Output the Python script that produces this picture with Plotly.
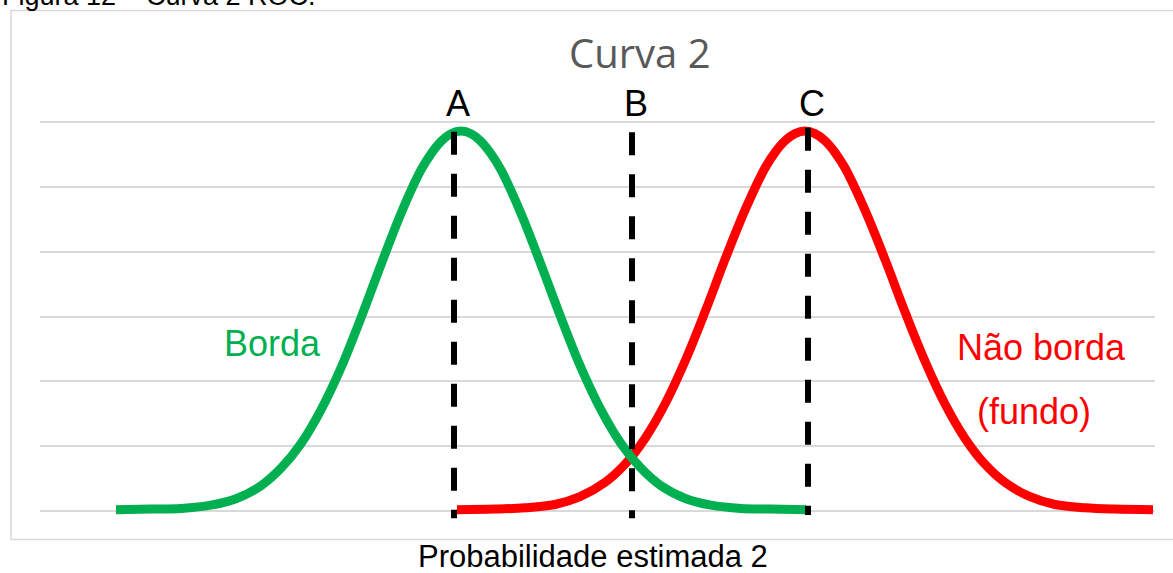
import plotly.graph_objects as go

# ---- data ----
borda_x = [116, 151, 181, 211, 236, 261, 281, 301, 321, 341, 361, 381, 401, 421, 431, 441, 451, 461,
           471, 481, 491, 501, 521, 541, 561, 581, 601, 621, 641, 661, 686, 711, 741, 771, 806]
borda_y = [0.02, 0.03, 0.04, 0.09, 0.19, 0.39, 0.66, 1.04, 1.56, 2.21, 2.98, 3.80, 4.59, 5.26, 5.51, 5.70, 5.82, 5.86,
           5.82, 5.70, 5.51, 5.26, 4.59, 3.80, 2.98, 2.21, 1.56, 1.04, 0.66, 0.39, 0.19, 0.09, 0.04, 0.03, 0.02]

fundo_x = [457, 495, 525, 555, 580, 605, 625, 645, 665, 685, 705, 725, 745, 765, 775, 785, 795, 805,
           815, 825, 835, 845, 865, 885, 905, 925, 945, 965, 985, 1005, 1030, 1055, 1085, 1115, 1153]
fundo_y = [0.02, 0.03, 0.05, 0.10, 0.22, 0.44, 0.72, 1.12, 1.65, 2.31, 3.07, 3.88, 4.64, 5.29, 5.53, 5.71, 5.82, 5.86,
           5.82, 5.71, 5.53, 5.29, 4.64, 3.88, 3.07, 2.31, 1.65, 1.12, 0.72, 0.44, 0.22, 0.10, 0.05, 0.03, 0.02]

limiar_nomes = ["A", "B", "C"]
limiar_x = [454, 632, 808]
limiar_topo = [5.85, 5.84, 5.91]
limiar_base = [-0.11, -0.11, -0.06]

grid_vals = [0, 1, 2, 3, 4, 5, 6]

serie_nomes = ["Borda", "Não borda", "(fundo)"]
titulo = "Curva 2"
eixo_x_titulo = "Probabilidade estimada 2"
legenda_figura = "Figura 12 – Curva 2 ROC."

# ---- layout geometry ----
W, H = 1173, 573
L, R, T, B = 40, 18, 119, 46
PW, PH = W - L - R, H - T - B
unit = (511 - 122) / 6.0
y_lo = -(527 - 511) / unit
y_hi = 6 + (122 - 119) / unit


def px(xpix):
    return (xpix - L) / PW


def py(ypix):
    return (H - B - ypix) / PH


GREEN = "#00B050"
RED = "#FF0000"
ARIAL = "Liberation Sans, Arial, sans-serif"

fig = go.Figure()

fig.add_trace(go.Scatter(x=fundo_x, y=fundo_y, mode="lines",
                         line=dict(color=RED, width=9, shape="spline", smoothing=1.0),
                         hoverinfo="skip", showlegend=False))
fig.add_trace(go.Scatter(x=borda_x, y=borda_y, mode="lines",
                         line=dict(color=GREEN, width=9, shape="spline", smoothing=1.0),
                         hoverinfo="skip", showlegend=False))

for nome, xv, yt, yb in zip(limiar_nomes, limiar_x, limiar_topo, limiar_base):
    fig.add_trace(go.Scatter(x=[xv, xv], y=[yt, yb], mode="lines",
                             line=dict(color="black", width=6, dash="23px,19px"),
                             hoverinfo="skip", showlegend=False, name=nome))

annotations = []
# threshold labels
for nome, xv in zip(limiar_nomes, limiar_x):
    annotations.append(dict(x=xv + 4, y=py(104), xref="x", yref="paper", text=nome,
                            showarrow=False, font=dict(family=ARIAL, size=36, color="black"),
                            xanchor="center", yanchor="middle"))
# series labels
annotations.append(dict(x=px(272), y=py(343), xref="paper", yref="paper", text=serie_nomes[0],
                        showarrow=False, font=dict(family=ARIAL, size=36, color=GREEN),
                        xanchor="center", yanchor="middle"))
annotations.append(dict(x=px(1041), y=py(347), xref="paper", yref="paper", text=serie_nomes[1],
                        showarrow=False, font=dict(family=ARIAL, size=36, color=RED),
                        xanchor="center", yanchor="middle"))
annotations.append(dict(x=px(1034), y=py(411), xref="paper", yref="paper", text=serie_nomes[2],
                        showarrow=False, font=dict(family=ARIAL, size=36, color=RED),
                        xanchor="center", yanchor="middle"))
# chart title
annotations.append(dict(x=px(640), y=py(53), xref="paper", yref="paper", text=titulo,
                        showarrow=False, font=dict(family="Open Sans, sans-serif", size=40, color="#595959"),
                        xanchor="center", yanchor="middle"))
# x-axis title
annotations.append(dict(x=px(593), y=py(556), xref="paper", yref="paper", text=eixo_x_titulo,
                        showarrow=False, font=dict(family=ARIAL, size=31, color="black"),
                        xanchor="center", yanchor="middle"))
# figure caption, cut off at the top
annotations.append(dict(x=px(0), y=py(-4), xref="paper", yref="paper", text=legenda_figura,
                        showarrow=False, font=dict(family=ARIAL, size=27, color="black"),
                        xanchor="left", yanchor="middle"))

shapes = [dict(type="rect", xref="paper", yref="paper",
               x0=px(11), x1=px(1185), y0=py(539.5), y1=py(10.5),
               line=dict(color="#d9d9d9", width=1.5), fillcolor="rgba(0,0,0,0)", layer="below")]

fig.update_layout(
    width=W, height=H,
    margin=dict(l=L, r=R, t=T, b=B, pad=0),
    paper_bgcolor="white", plot_bgcolor="white",
    xaxis=dict(range=[L, W - R], showgrid=False, zeroline=False, showticklabels=False,
               ticks="", showline=False, fixedrange=True),
    yaxis=dict(range=[y_lo, y_hi], tickvals=grid_vals, showgrid=True, gridcolor="#d9d9d9",
               gridwidth=2, zeroline=False, showticklabels=False, ticks="", showline=False,
               fixedrange=True),
    annotations=annotations,
    shapes=shapes,
    showlegend=False,
)

fig.write_html("out.html", config={"displayModeBar": False},
               post_script="document.body.style.margin='0';document.body.style.overflow='hidden';")
